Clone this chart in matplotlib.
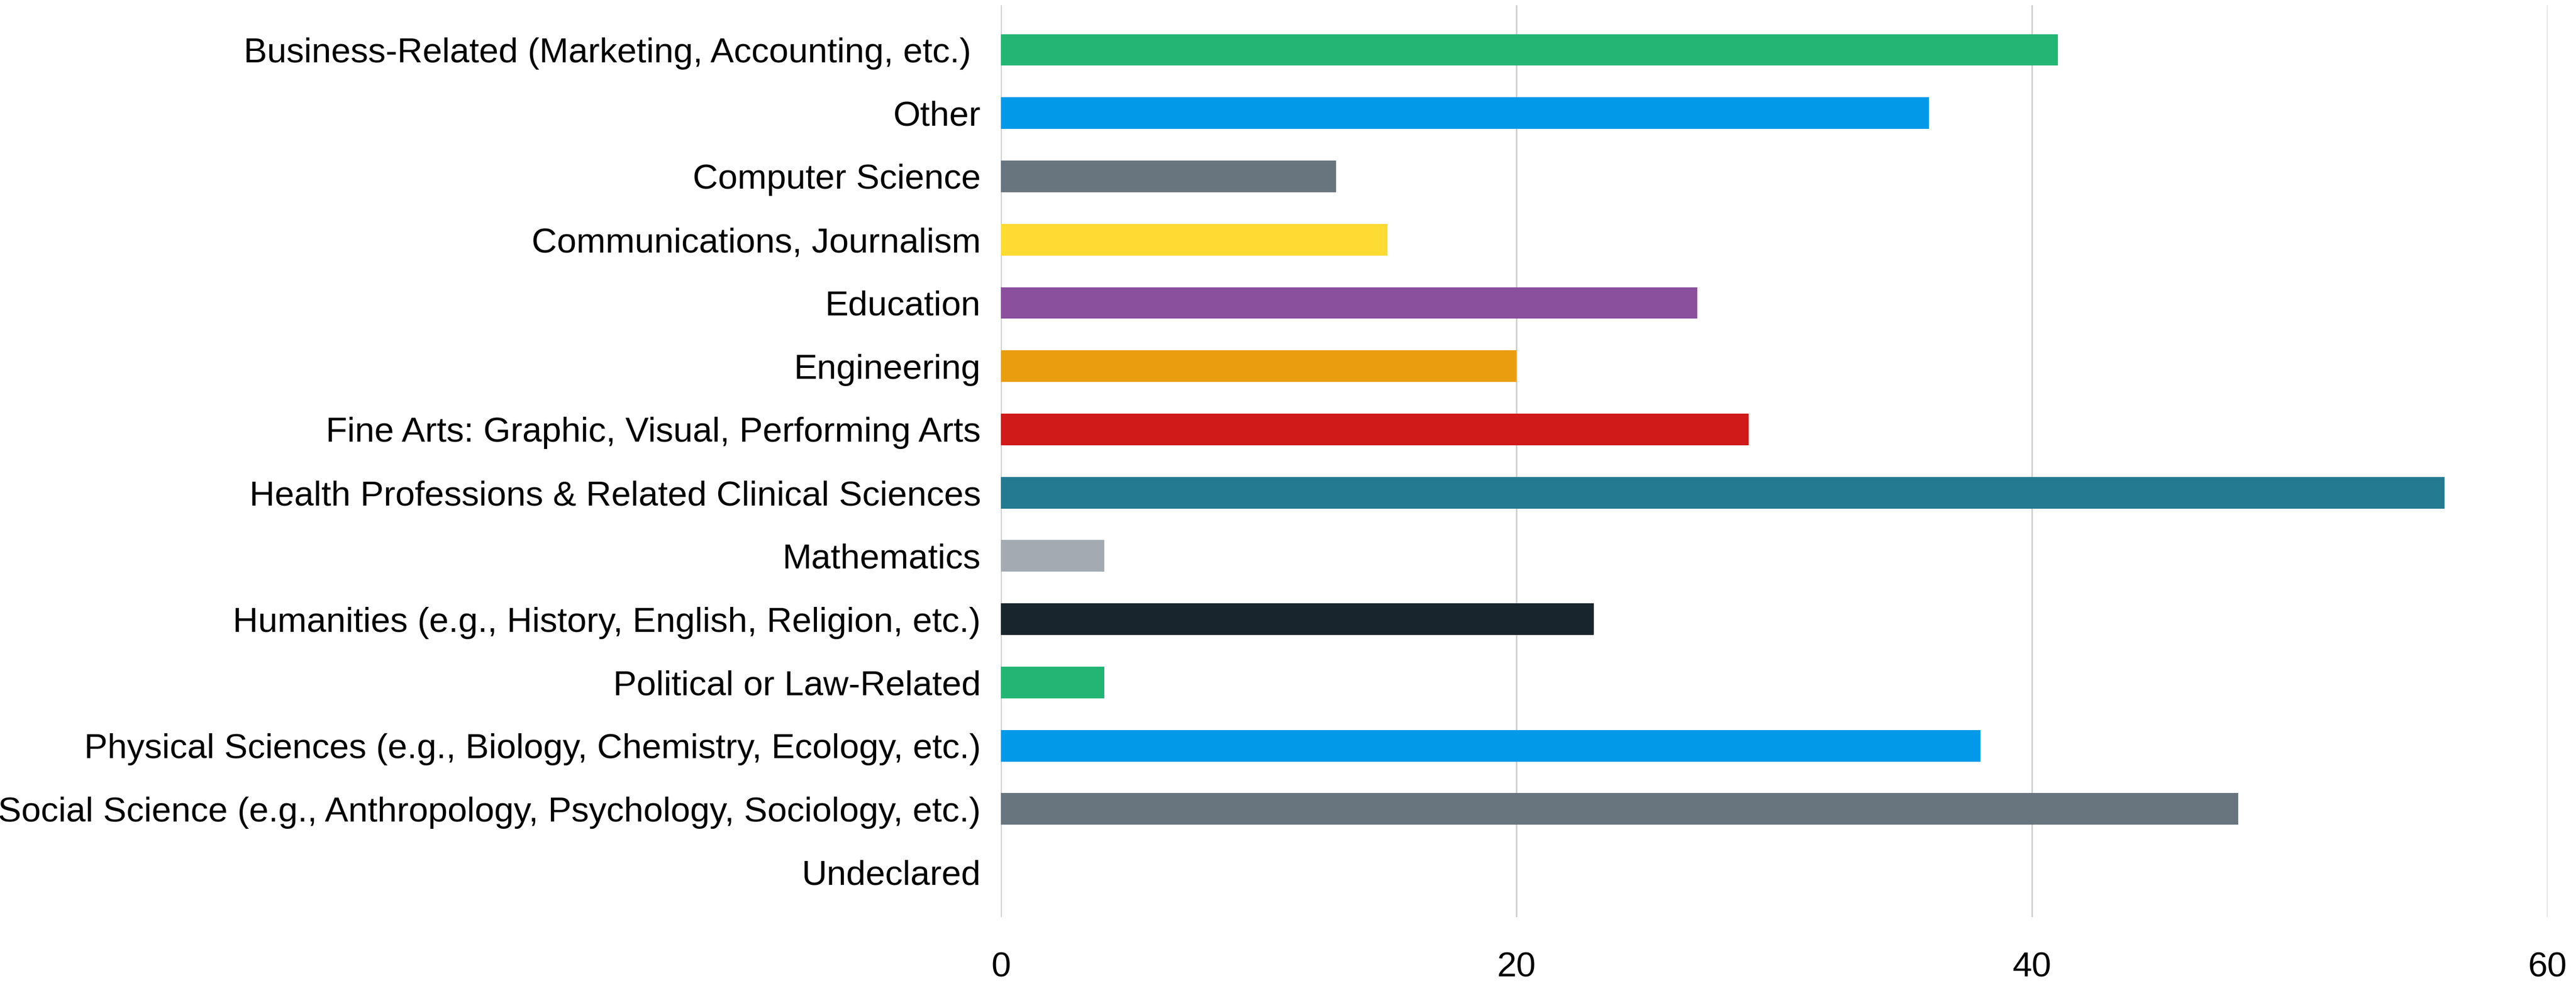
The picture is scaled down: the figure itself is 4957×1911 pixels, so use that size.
import numpy as np
import matplotlib
matplotlib.use("Agg")
from matplotlib import pyplot as plt

plt.rcParams['font.family'] = ['Liberation Sans', 'DejaVu Sans']

majors = [
    "Business-Related (Marketing, Accounting, etc.) ",
    "Other",
    "Computer Science",
    "Communications, Journalism",
    "Education",
    "Engineering",
    "Fine Arts: Graphic, Visual, Performing Arts",
    "Health Professions & Related Clinical Sciences",
    "Mathematics",
    "Humanities (e.g., History, English, Religion, etc.)",
    "Political or Law-Related",
    "Physical Sciences (e.g., Biology, Chemistry, Ecology, etc.)",
    "Social Science (e.g., Anthropology, Psychology, Sociology, etc.)",
    "Undeclared",
]
counts = [41, 36, 13, 15, 27, 20, 29, 56, 4, 23, 4, 38, 48, 0]
colors = ["#22b573", "#0399e9", "#68757e", "#fddb32", "#8a4f9d", "#e99e10",
          "#d01919", "#237a91", "#a3aab1", "#18252c", "#22b573", "#0399e9",
          "#68757e", "#a3aab1"]
xticks = [0, 20, 40, 60]

fig = plt.figure(figsize=(49.57, 19.11), dpi=100)
ax = fig.add_axes([0.3886, 0.0764, 0.6004, 0.9186])

y = np.arange(len(majors))
ax.barh(y, counts, height=0.5, color=colors, zorder=2)

ax.set_xlim(0, 60)
ax.set_ylim(len(majors) - 1 + 0.71, -0.71)
ax.set_xticks(xticks)
ax.set_yticks(y)
ax.set_yticklabels(majors)
ax.tick_params(axis='y', length=0, pad=28, labelsize=48.5)
ax.tick_params(axis='x', length=0, pad=48, labelsize=48.5)
ax.grid(axis='x', color='#c8c8c8', linewidth=1.8, zorder=0)
for s in ax.spines.values():
    s.set_visible(False)

fig.savefig("out.png", dpi=100, facecolor='white')
